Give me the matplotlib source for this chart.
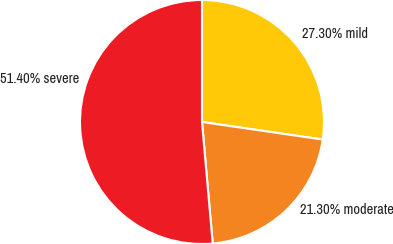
import matplotlib
matplotlib.use("Agg")
import matplotlib.pyplot as plt

labels = ["mild", "moderate", "severe"]
shares = [27.3, 21.3, 51.4]
colors = ["#FFC907", "#F48420", "#ED1C24"]
# label anchor points in pie-radius units
label_pos = [(0.82, 0.72), (0.80, -0.72), (-1.656, 0.35)]

family = ["Archivo Narrow", "Roboto Condensed", "Liberation Sans", "DejaVu Sans"]

W, H = 393, 244
cx, cy, r = 202, 122, 122

fig = plt.figure(figsize=(W / 100, H / 100), dpi=100)
ax = fig.add_axes([(cx - r) / W, (H - cy - r) / H, 2 * r / W, 2 * r / H])
ax.pie(shares, colors=colors, startangle=90, counterclock=False, radius=1,
       wedgeprops=dict(edgecolor="white", linewidth=1.5))
ax.set_xlim(-1, 1)
ax.set_ylim(-1, 1)
ax.set_aspect("equal")
ax.axis("off")

for name, val, (x, y) in zip(labels, shares, label_pos):
    ax.text(x, y, f"{val:.2f}% {name}", ha="left", va="center",
            fontsize=10.4, family=family, color="#231F20", clip_on=False)

fig.savefig("out.png", dpi=100)
